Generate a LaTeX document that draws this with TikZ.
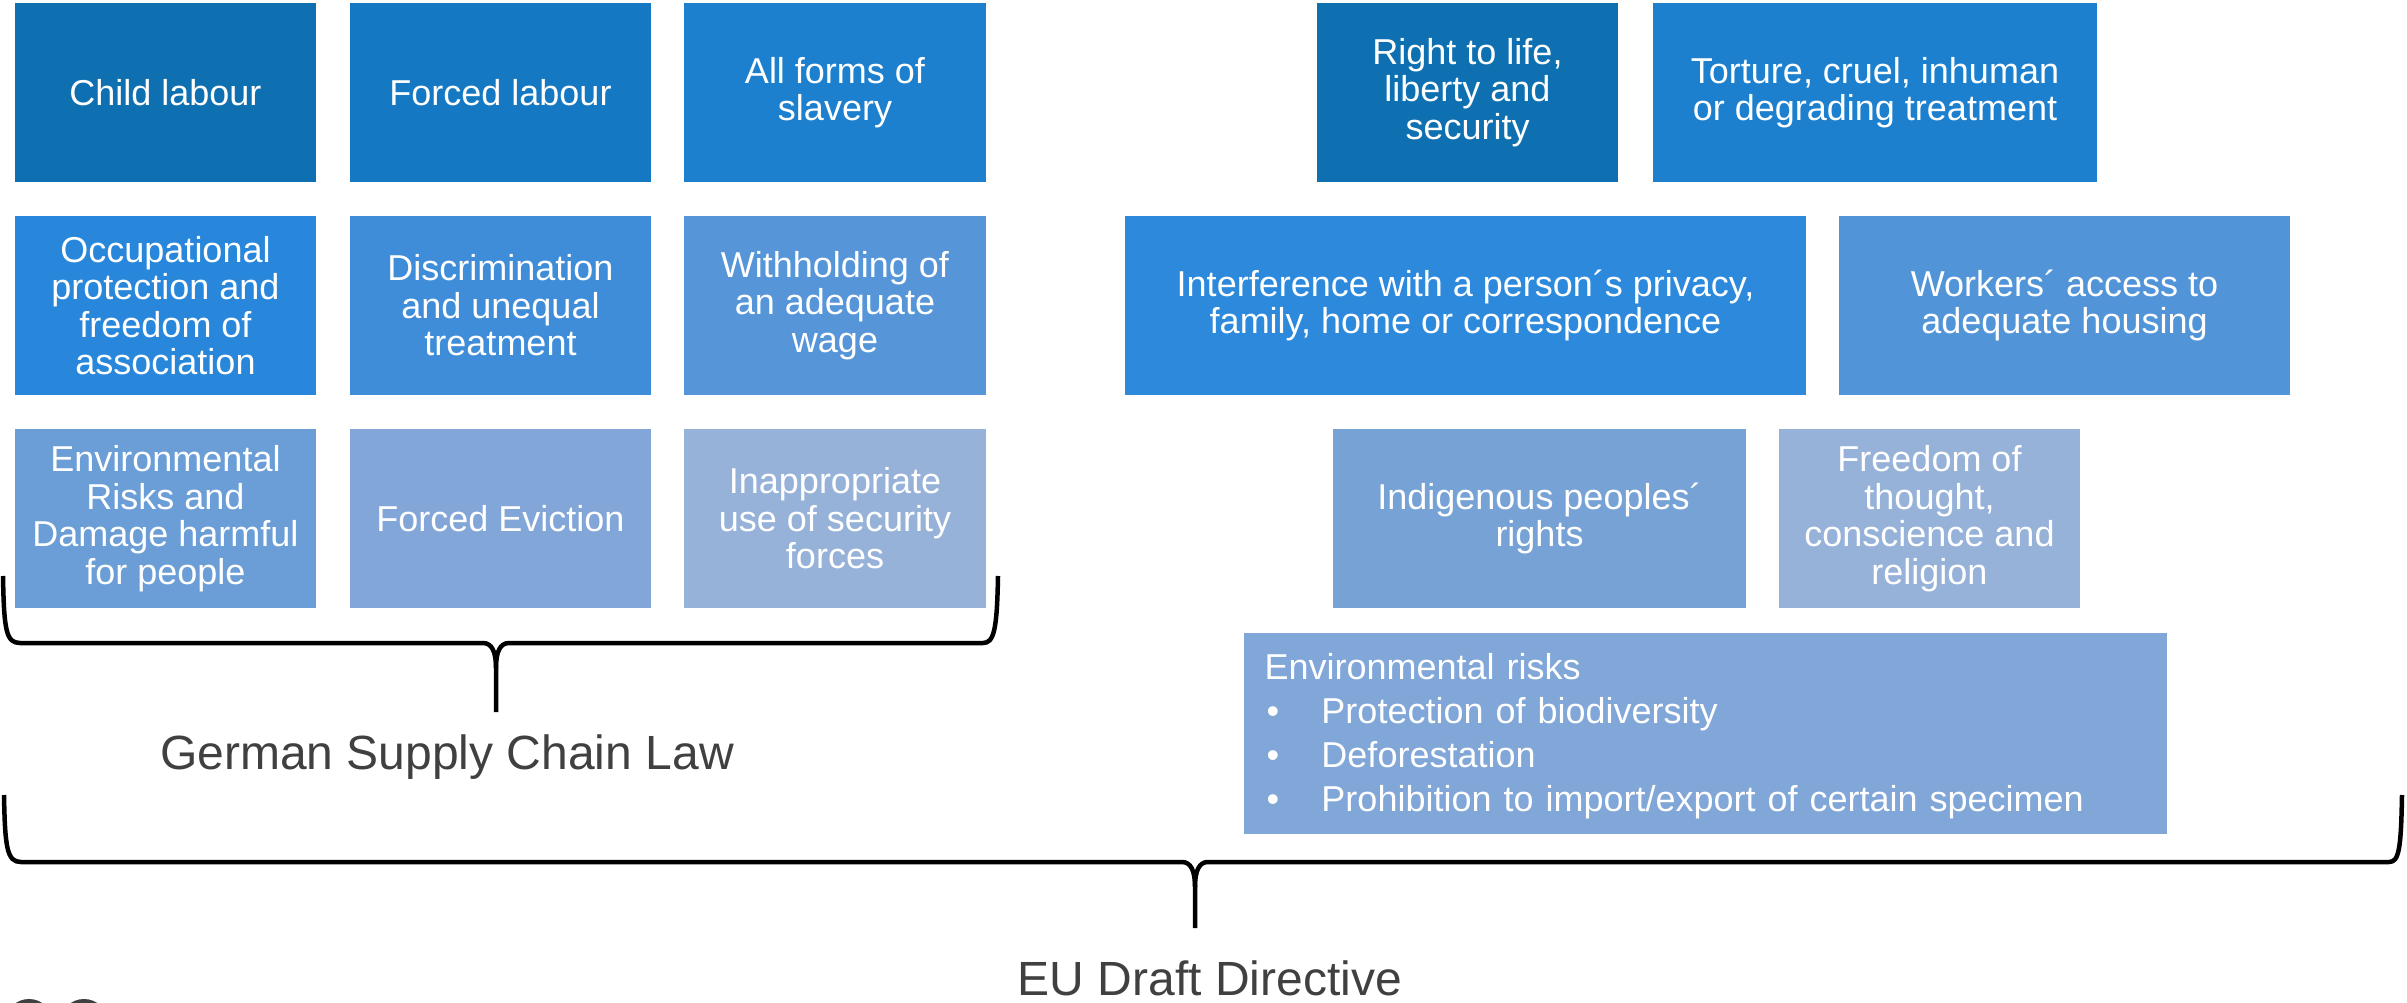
\documentclass[tikz,border=0pt]{standalone}
\usepackage{fontspec}
\setmainfont{Liberation Sans}
\definecolor{cA}{HTML}{0E70B0}
\definecolor{cB}{HTML}{1478C2}
\definecolor{cC}{HTML}{1C80CE}
\definecolor{cD}{HTML}{2887DB}
\definecolor{cE}{HTML}{3F8CD8}
\definecolor{cF}{HTML}{5695D8}
\definecolor{cG}{HTML}{6B9ED6}
\definecolor{cH}{HTML}{82A6D8}
\definecolor{cI}{HTML}{97B2D9}
\definecolor{cJ}{HTML}{2C89DB}
\definecolor{cK}{HTML}{5294D8}
\definecolor{cL}{HTML}{77A2D6}
\definecolor{cM}{HTML}{81A6D8}
\definecolor{labelgrey}{HTML}{404040}
\tikzset{
  topic/.style={text=white, inner sep=0pt, align=center, minimum height=179pt,
    font=\fontsize{36}{37.5}\selectfont},
  brace/.style={line width=4.5pt, black, line cap=butt, line join=round},
  lawlabel/.style={text=labelgrey, inner sep=0pt, font=\fontsize{48}{56}\selectfont},
}
\begin{document}
\begin{tikzpicture}[x=1pt,y=-1pt]
\useasboundingbox[fill=white] (0,0) rectangle (2407,1003);

% German Supply Chain Law grid
\node[topic, fill=cA, minimum width=301pt] (cl) at (165.5,92.5) {Child labour};
\node[topic, fill=cB, minimum width=301pt] (fl) at (500.5,92.5) {Forced labour};
\node[topic, fill=cC, minimum width=302pt] (sl) at (835,92.5) {All forms of\\slavery};
\node[topic, fill=cD, minimum width=301pt] (op) at (165.5,305.5) {Occupational\\protection and\\freedom of\\association};
\node[topic, fill=cE, minimum width=301pt] (di) at (500.5,305.5) {Discrimination\\and unequal\\treatment};
\node[topic, fill=cF, minimum width=302pt] (wi) at (835,305.5) {Withholding of\\an adequate\\wage};
\node[topic, fill=cG, minimum width=301pt] (en) at (165.5,518.5) {Environmental\\Risks and\\Damage harmful\\for people};
\node[topic, fill=cH, minimum width=301pt] (ev) at (500.5,518.5) {Forced Eviction};
\node[topic, fill=cI, minimum width=302pt] (sf) at (835,518.5) {Inappropriate\\use of security\\forces};

% EU Draft Directive additions
\node[topic, fill=cA, minimum width=301pt] (rl) at (1467.5,92.5) {Right to life,\\liberty and\\security};
\node[topic, fill=cC, minimum width=444pt] (tc) at (1875,92.5) {Torture, cruel, inhuman\\or degrading treatment};
\node[topic, fill=cJ, minimum width=681pt] (ip) at (1465.5,305.5) {Interference with a person´s privacy,\\family, home or correspondence};
\node[topic, fill=cK, minimum width=451pt] (wh) at (2064.5,305.5) {Workers´ access to\\adequate housing};
\node[topic, fill=cL, minimum width=413pt] (ir) at (1539.5,518.5) {Indigenous peoples´\\rights};
\node[topic, fill=cI, minimum width=301pt] (fr) at (1929.5,518.5) {Freedom of\\thought,\\conscience and\\religion};
\node[fill=cM, text=white, minimum width=923pt, minimum height=201pt, text width=882pt,
      inner xsep=20.5pt, inner ysep=0pt, align=left, font=\fontsize{36}{44}\selectfont]
  (er) at (1705.5,733.5)
  {\rule{0pt}{32pt}Environmental risks\\
   \makebox[57pt][l]{\hspace{2pt}•}Protection of biodiversity\\
   \makebox[57pt][l]{\hspace{2pt}•}Deforestation\\
   \makebox[57pt][l]{\hspace{2pt}•}Prohibition to import/export of certain specimen};

% German brace
\coordinate (gtip) at (496,712);
\draw[brace] (3,576) .. controls (4,630) and (6,643) .. (20,643) -- (483,643)
  .. controls (492,643) and (496,652) .. (496,668) -- (gtip);
\draw[brace] (496,668) .. controls (496,652) and (500,643) .. (509,643) -- (983,643)
  .. controls (994,643) and (997,630) .. (998,576);
\node[lawlabel] (glabel) at (447,757) {German Supply Chain Law};

% EU brace
\coordinate (etip) at (1195,928);
\draw[brace] (4,795) .. controls (5,848) and (7,862) .. (21,862) -- (1182,862)
  .. controls (1191,862) and (1195,871) .. (1195,887) -- (etip);
\draw[brace] (1195,887) .. controls (1195,871) and (1199,862) .. (1208,862) -- (2389,862)
  .. controls (2399,862) and (2401,849) .. (2402,795);
\node[lawlabel] (elabel) at (1210,978) {EU Draft Directive};

% partially visible logo at the bottom edge
\draw[labelgrey, line width=4pt] (29,1023) circle (22);
\draw[labelgrey, line width=4pt] (84,1023) circle (22);
\end{tikzpicture}
\end{document}
